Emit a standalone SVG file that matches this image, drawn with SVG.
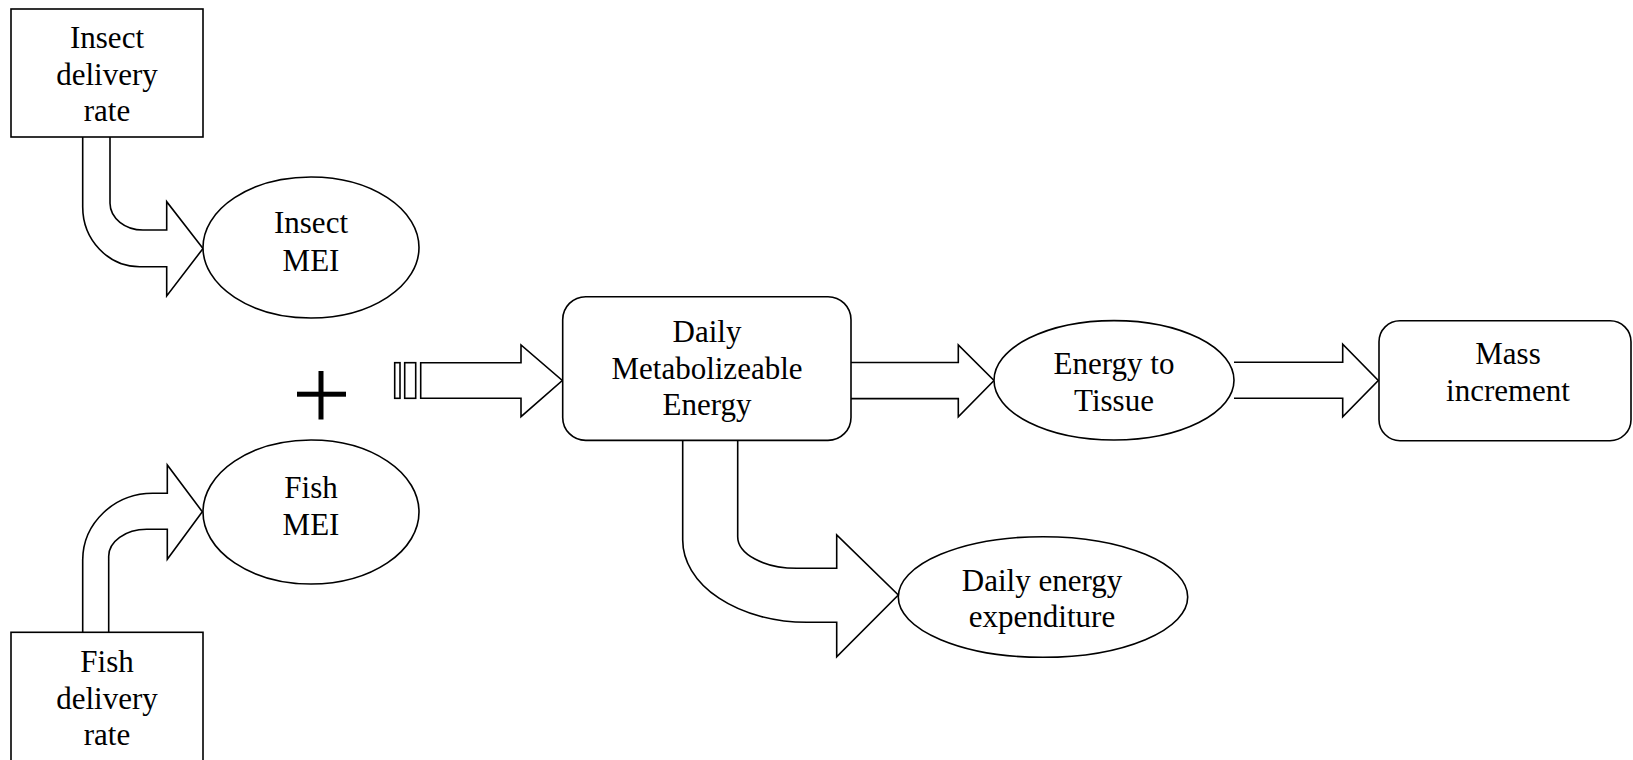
<svg xmlns="http://www.w3.org/2000/svg" width="1633" height="760" viewBox="0 0 1633 760">
<style>
.shape{fill:#fff;stroke:#000;stroke-width:1.6}
.arrow{fill:#fff;stroke:#000;stroke-width:1.6;stroke-linejoin:miter}
text{font-family:"Liberation Serif","Times New Roman",serif;font-size:31px;fill:#000;text-anchor:middle}
</style>
<rect width="1633" height="760" fill="#fff"/>
<g id="connectors">
<path class="arrow" d="M82.7,137 V206.7 A57,60 0 0 0 140,266.7 H166.7 V296 L203,248.5 L166.7,201.7 V230 H143.3 A33,27 0 0 1 110,203.3 V137"/>
<path class="arrow" d="M82.7,632.3 V560 A70,67 0 0 1 153,493.3 H167.3 V465 L202.3,511.7 L167.3,559.3 V529.3 H146.7 A38,27 0 0 0 108.7,556.7 V632.3"/>
<rect class="arrow" x="394.7" y="362.7" width="5.3" height="35.6"/>
<rect class="arrow" x="404.7" y="362.7" width="11" height="35.6"/>
<path class="arrow" d="M420.7,362.7 H521 V345 L562.3,380.5 L521,416.7 V398.3 H420.7 Z"/>
<path class="arrow" d="M851,362.5 H958.3 V345 L994,380.5 L958.3,416.7 V398.6 H851"/>
<path class="arrow" d="M1234,362.3 H1342.7 V344.3 L1378.3,380.5 L1342.7,416.7 V398.3 H1234"/>
<path class="arrow" d="M682.7,440.7 V540 A124,82.3 0 0 0 806.7,622.3 H836.7 V656.7 L898.3,595 L836.7,535 V568.3 H796.7 A59,31.6 0 0 1 737.7,536.7 V440.7"/>
</g>
<g id="plus">
<rect x="297" y="391.7" width="49" height="5" fill="#000"/>
<rect x="318.5" y="371" width="5" height="48.5" fill="#000"/>
</g>
<g id="insect-delivery">
<rect class="shape" x="11" y="9" width="192" height="128"/>
<text x="107" y="48">Insect</text>
<text x="107" y="84.5">delivery</text>
<text x="107" y="121">rate</text>
</g>
<g id="insect-mei">
<ellipse class="shape" cx="311" cy="247.5" rx="108" ry="70.5"/>
<text x="311" y="233">Insect</text>
<text x="311" y="271">MEI</text>
</g>
<g id="fish-mei">
<ellipse class="shape" cx="311" cy="512" rx="108" ry="72"/>
<text x="311" y="498">Fish</text>
<text x="311" y="535">MEI</text>
</g>
<g id="fish-delivery">
<rect class="shape" x="11" y="632.3" width="192" height="140"/>
<text x="107" y="672">Fish</text>
<text x="107" y="708.5">delivery</text>
<text x="107" y="745">rate</text>
</g>
<g id="daily-me">
<rect class="shape" x="562.7" y="296.7" width="288.3" height="143.7" rx="23" ry="23"/>
<text x="707" y="342">Daily</text>
<text x="707" y="378.5">Metabolizeable</text>
<text x="707" y="415">Energy</text>
</g>
<g id="energy-tissue">
<ellipse class="shape" cx="1114" cy="380.3" rx="120" ry="59.7"/>
<text x="1114" y="374">Energy to</text>
<text x="1114" y="410.5">Tissue</text>
</g>
<g id="mass-increment">
<rect class="shape" x="1379" y="320.7" width="252" height="120" rx="21" ry="21"/>
<text x="1508" y="364">Mass</text>
<text x="1508" y="401">increment</text>
</g>
<g id="daily-expenditure">
<ellipse class="shape" cx="1043" cy="597" rx="144.7" ry="60.3"/>
<text x="1042" y="591">Daily energy</text>
<text x="1042" y="627">expenditure</text>
</g>
</svg>
